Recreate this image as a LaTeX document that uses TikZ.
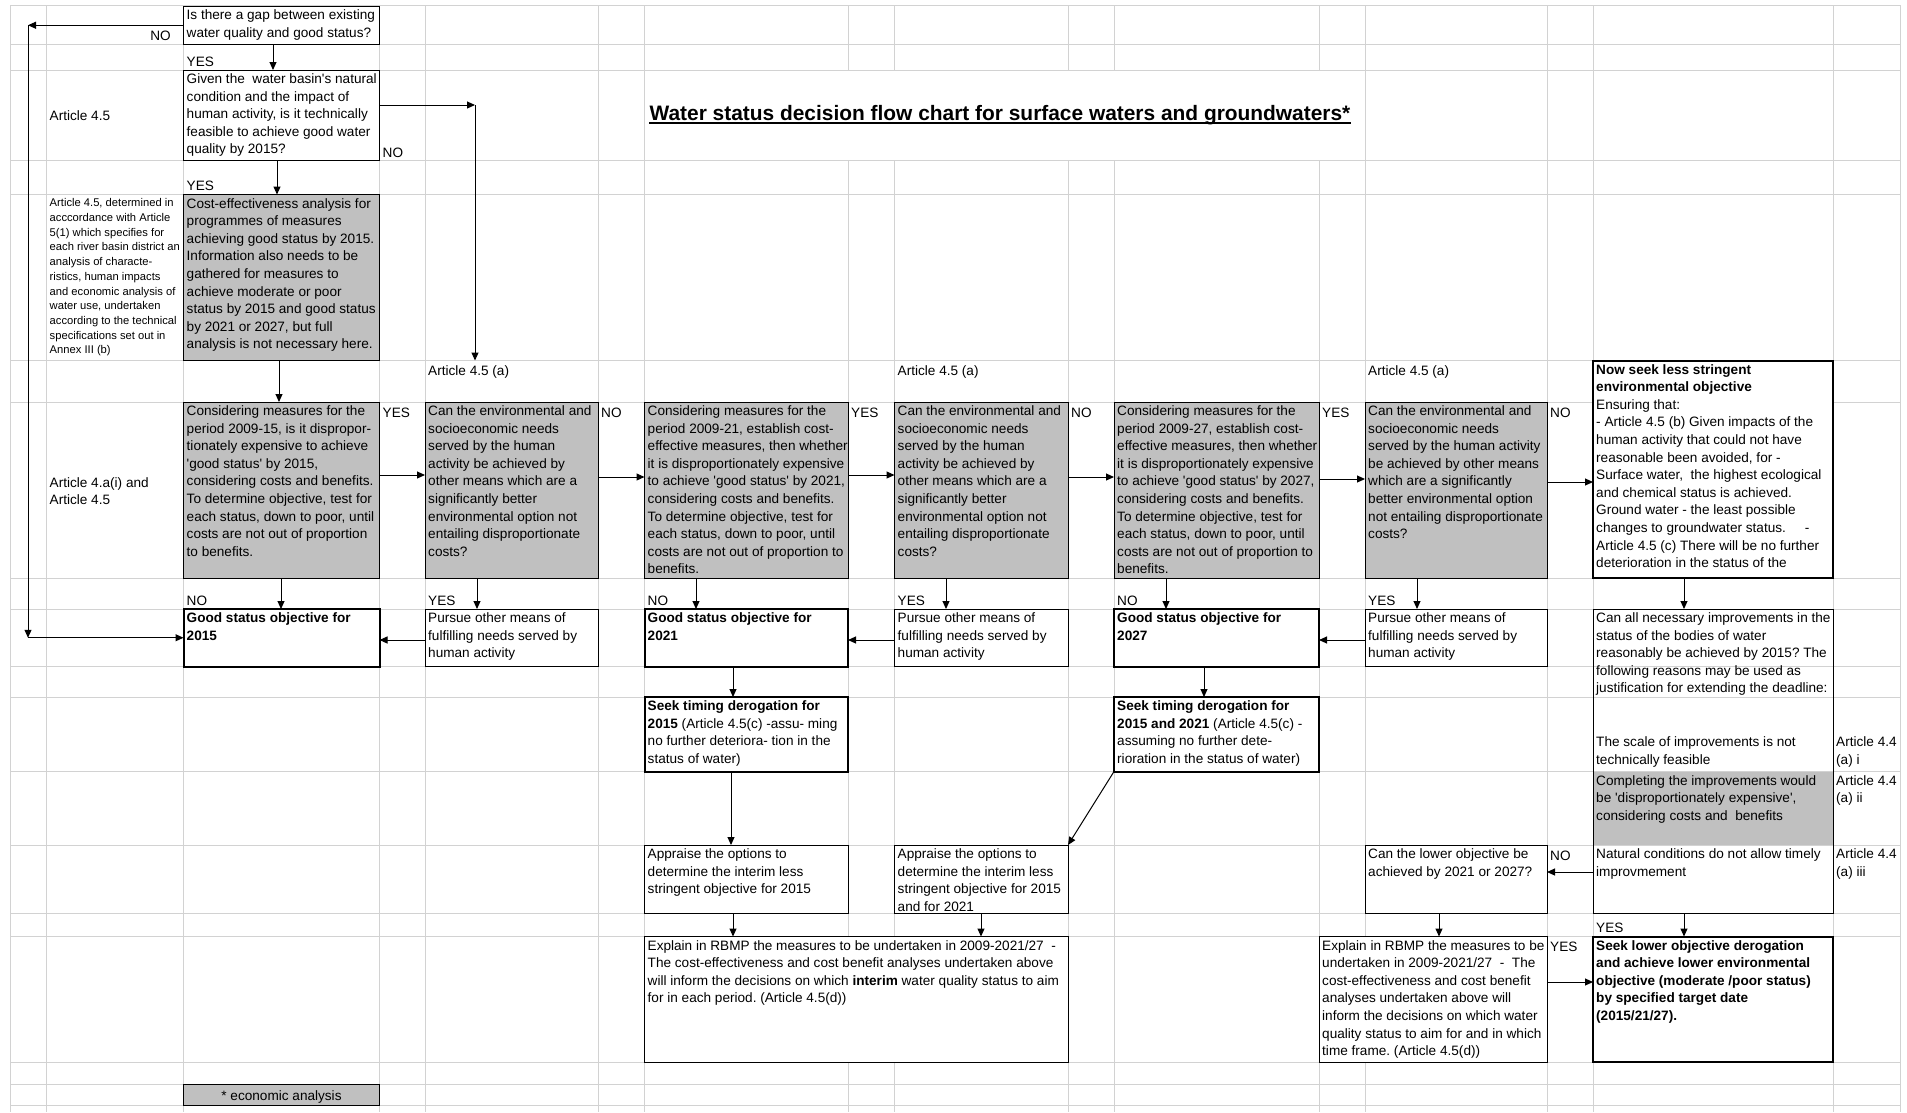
\documentclass[tikz,border=0pt]{standalone}
\usepackage{fontspec}
\setmainfont{Liberation Sans}
\usepackage{tikz}
\usetikzlibrary{arrows.meta, fit}
\frenchspacing
\definecolor{cellgray}{RGB}{192,192,192}
\definecolor{gridgray}{RGB}{210,210,210}
\newcommand{\bodyfont}{\fontsize{13.6}{17.6}\selectfont}
\newcommand{\notefont}{\fontsize{11.2}{14.7}\selectfont}
\newcommand{\titlefont}{\fontsize{20.9}{25}\selectfont\bfseries}
\newcommand{\sq}{\textquotesingle}
\tikzstyle{box} = [draw=black, line width=1pt, fill=white, inner sep=0pt, outer sep=0pt]
\tikzstyle{graybox} = [box, fill=cellgray]
\tikzstyle{boldbox} = [box, line width=2pt]
\tikzstyle{txt} = [anchor=north west, align=left, inner xsep=3pt, inner ysep=3.5pt,
 font=\bodyfont, execute at begin node=\strut]
\tikzstyle{note} = [txt, font=\notefont, inner ysep=4pt]
\tikzstyle{lbl} = [anchor=base west, inner sep=0pt, font=\bodyfont]
\tikzstyle{arrow} = [line width=1pt, -{Triangle[length=8pt, width=7pt]}]

\begin{document}
\begin{tikzpicture}[x=1pt, y=-1pt]
\useasboundingbox[fill=white] (0,0) rectangle (1907,1112);
\foreach \gx in {10,46.5,183.5,379.5,425,598,644.5,848,894.5,1068,1114,1319,1365,1547,1593,1833,1900}
 \draw[gridgray, line width=1pt] (\gx,5) -- (\gx,1112);
\foreach \gy in {5,44.5,70,160.5,194.5,360.5,402,578,609,666.5,697,771.5,845,913,936.5,1062,1084,1105.5}
 \draw[gridgray, line width=1pt] (10,\gy) -- (1900,\gy);
\fill[white] (645.5,71) rectangle (1364,159.5);
\node(title) [font=\titlefont, inner sep=0pt] at (1000,115) {Water status decision flow chart for surface waters and groundwaters*};
\draw[line width=2pt] ([yshift=-3pt]title.base west) -- ([yshift=-3pt]title.base east);

\node(gap) [box, fit={(183.5,6) (379.5,44.5)}] {};
\node(given) [box, fit={(183.5,70) (379.5,160.5)}] {};
\node(cea) [graybox, fit={(183.5,194.5) (379.5,360.5)}] {};
\node(dispro15) [graybox, fit={(183.5,402) (379.5,578)}] {};
\node(means15) [graybox, fit={(425,402) (598,578)}] {};
\node(dispro21) [graybox, fit={(644.5,402) (848,578)}] {};
\node(means21) [graybox, fit={(894.5,402) (1068,578)}] {};
\node(dispro27) [graybox, fit={(1114,402) (1319,578)}] {};
\node(means27) [graybox, fit={(1365,402) (1547,578)}] {};
\node(lessobj) [boldbox, fit={(1593,360.5) (1833,578)}] {};
\node(good15) [boldbox, fit={(183.5,609) (379.5,666.5)}] {};
\node(pursue15) [box, fit={(425,609) (598,666.5)}] {};
\node(good21) [boldbox, fit={(644.5,609) (848,666.5)}] {};
\node(pursue21) [box, fit={(894.5,609) (1068,666.5)}] {};
\node(good27) [boldbox, fit={(1114,609) (1319,666.5)}] {};
\node(pursue27) [box, fit={(1365,609) (1547,666.5)}] {};
\node(costrow) [fill=cellgray, inner sep=0pt, fit={(1593,771.5) (1833,845)}] {};
\node(reasons) [box, fill=none, fit={(1593,609) (1833,913)}] {};
\node(timing15) [boldbox, fit={(644.5,697) (848,771.5)}] {};
\node(timing21) [boldbox, fit={(1114,697) (1319,771.5)}] {};
\node(appraise15) [box, fit={(644.5,845) (848,913)}] {};
\node(appraise21) [box, fit={(894.5,845) (1068,913)}] {};
\node(lowerq) [box, fit={(1365,845) (1547,913)}] {};
\node(explaini) [box, fit={(644.5,936.5) (1068,1062)}] {};
\node(explainl) [box, fit={(1319,936.5) (1547,1062)}] {};
\node(lowerobj) [boldbox, fit={(1593,936.5) (1833,1062)}] {};
\node(econ) [graybox, fit={(183.5,1084) (379.5,1105.5)}] {};
\node(econt) [font=\bodyfont, inner sep=0pt, anchor=base] at (281.5,1100) {* economic analysis};

\node(gapt) [txt] at (183.5,6) {Is there a gap between existing\\water quality and good status?};
\node(givent) [txt] at (183.5,70) {Given the \ water basin\sq s natural\\condition and the impact of\\human activity, is it technically\\feasible to achieve good water\\quality by 2015?};
\node(ceat) [txt] at (183.5,194.5) {Cost-effectiveness analysis for\\programmes of measures\\achieving good status by 2015.\\Information also needs to be\\gathered for measures to\\achieve moderate or poor\\status by 2015 and good status\\by 2021 or 2027, but full\\analysis is not necessary here.};
\node(dispro15t) [txt] at (183.5,402) {Considering measures for the\\period 2009-15, is it dispropor-\\tionately expensive to achieve\\\sq good status\sq\ by 2015,\\considering costs and benefits.\\To determine objective, test for\\each status, down to poor, until\\costs are not out of proportion\\to benefits.};
\node(means15t) [txt] at (425,402) {Can the environmental and\\socioeconomic needs\\served by the human\\activity be achieved by\\other means which are a\\significantly better\\environmental option not\\entailing disproportionate\\costs?};
\node(dispro21t) [txt] at (644.5,402) {Considering measures for the\\period 2009-21, establish cost-\\effective measures, then whether\\it is disproportionately expensive\\to achieve \sq good status\sq\ by 2021,\\considering costs and benefits.\\To determine objective, test for\\each status, down to poor, until\\costs are not out of proportion to\\benefits.};
\node(means21t) [txt] at (894.5,402) {Can the environmental and\\socioeconomic needs\\served by the human\\activity be achieved by\\other means which are a\\significantly better\\environmental option not\\entailing disproportionate\\costs?};
\node(dispro27t) [txt] at (1114,402) {Considering measures for the\\period 2009-27, establish cost-\\effective measures, then whether\\it is disproportionately expensive\\to achieve \sq good status\sq\ by 2027,\\considering costs and benefits.\\To determine objective, test for\\each status, down to poor, until\\costs are not out of proportion to\\benefits.};
\node(means27t) [txt] at (1365,402) {Can the environmental and\\socioeconomic needs\\served by the human activity\\be achieved by other means\\which are a significantly\\better environmental option\\not entailing disproportionate\\costs?};
\node(lessobjt) [txt] at (1593,360.5) {\textbf{Now seek less stringent}\\\textbf{environmental objective}\\Ensuring that:\\- Article 4.5 (b) Given impacts of the\\human activity that could not have\\reasonable been avoided, for -\\Surface water, \ the highest ecological\\and chemical status is achieved.\\Ground water - the least possible\\changes to groundwater status. \ \ \ \ -\\Article 4.5 (c) There will be no further\\deterioration in the status of the};
\node(good15t) [txt] at (183.5,609) {\textbf{Good status objective for}\\\textbf{2015}};
\node(pursue15t) [txt] at (425,609) {Pursue other means of\\fulfilling needs served by\\human activity};
\node(good21t) [txt] at (644.5,609) {\textbf{Good status objective for}\\\textbf{2021}};
\node(pursue21t) [txt] at (894.5,609) {Pursue other means of\\fulfilling needs served by\\human activity};
\node(good27t) [txt] at (1114,609) {\textbf{Good status objective for}\\\textbf{2027}};
\node(pursue27t) [txt] at (1365,609) {Pursue other means of\\fulfilling needs served by\\human activity};
\node(reasonst) [txt] at (1593,609) {Can all necessary improvements in the\\status of the bodies of water\\reasonably be achieved by 2015? The\\following reasons may be used as\\justification for extending the deadline:};
\node(scalet) [txt] at (1593,733) {The scale of improvements is not\\technically feasible};
\node(costt) [txt] at (1593,771.5) {Completing the improvements would\\be \sq disproportionately expensive\sq ,\\considering costs and \ benefits};
\node(naturalt) [txt] at (1593,845) {Natural conditions do not allow timely\\improvmement};
\node(art44i) [txt] at (1833,733) {Article 4.4\\(a) i};
\node(art44ii) [txt] at (1833,771.5) {Article 4.4\\(a) ii};
\node(art44iii) [txt] at (1833,845) {Article 4.4\\(a) iii};
\node(timing15t) [txt] at (644.5,697) {\textbf{Seek timing derogation for}\\\textbf{2015} (Article 4.5(c) -assu- ming\\no further deteriora- tion in the\\status of water)};
\node(timing21t) [txt] at (1114,697) {\textbf{Seek timing derogation for}\\\textbf{2015 and 2021} (Article 4.5(c) -\\assuming no further dete-\\rioration in the status of water)};
\node(appraise15t) [txt] at (644.5,845) {Appraise the options to\\determine the interim less\\stringent objective for 2015};
\node(appraise21t) [txt] at (894.5,845) {Appraise the options to\\determine the interim less\\stringent objective for 2015\\and for 2021};
\node(lowerqt) [txt] at (1365,845) {Can the lower objective be\\achieved by 2021 or 2027?};
\node(explainit) [txt] at (644.5,936.5) {Explain in RBMP the measures to be undertaken in 2009-2021/27 \ -\\The cost-effectiveness and cost benefit analyses undertaken above\\will inform the decisions on which \textbf{interim} water quality status to aim\\for in each period. (Article 4.5(d))};
\node(explainlt) [txt] at (1319,936.5) {Explain in RBMP the measures to be\\undertaken in 2009-2021/27 \ - \ The\\cost-effectiveness and cost benefit\\analyses undertaken above will\\inform the decisions on which water\\quality status to aim for and in which\\time frame. (Article 4.5(d))};
\node(lowerobjt) [txt] at (1593,936.5) {\textbf{Seek lower objective derogation}\\\textbf{and achieve lower environmental}\\\textbf{objective (moderate /poor status)}\\\textbf{by specified target date}\\\textbf{(2015/21/27).}};

\node(art45) [lbl, anchor=west] at (49.5,116) {Article 4.5};
\node(art45det) [note] at (46.5,194.5) {Article 4.5, determined in\\acccordance with Article\\5(1) which specifies for\\each river basin district an\\analysis of characte-\\ristics, human impacts\\and economic analysis of\\water use, undertaken\\according to the technical\\specifications set out in\\Annex III (b)};
\node(art4a) [lbl, anchor=west, align=left] at (49.5,491) {Article 4.a(i) and\\Article 4.5};
\node(art45a1) [lbl] at (428,375) {Article 4.5 (a)};
\node(art45a2) [lbl] at (897.5,375) {Article 4.5 (a)};
\node(art45a3) [lbl] at (1368,375) {Article 4.5 (a)};
\node(nogap) [lbl, anchor=base east] at (171,40.5) {NO};
\node(yesgap) [lbl] at (186.5,66) {YES};
\node(nogiven) [lbl] at (382.5,157) {NO};
\node(yesgiven) [lbl] at (186.5,190.5) {YES};
\node(yesA) [lbl] at (382.5,417) {YES};
\node(noB) [lbl] at (601,417) {NO};
\node(yesC) [lbl] at (851,417) {YES};
\node(noD) [lbl] at (1071,417) {NO};
\node(yesE) [lbl] at (1322,417) {YES};
\node(noF) [lbl] at (1550,417) {NO};
\node(noA) [lbl] at (186.5,605) {NO};
\node(yesB) [lbl] at (428,605) {YES};
\node(noC) [lbl] at (647.5,605) {NO};
\node(yesD) [lbl] at (897.5,605) {YES};
\node(noE) [lbl] at (1117,605) {NO};
\node(yesF) [lbl] at (1368,605) {YES};
\node(nolower) [lbl] at (1550,860) {NO};
\node(yesreasons) [lbl] at (1596,932.5) {YES};
\node(yesexplain) [lbl] at (1550,951.5) {YES};

\coordinate (noturn) at (28,25.25);
\coordinate (nodown) at (28,637.75);
\coordinate (giventurn) at (475,105);
\coordinate (givendown) at (475,360.5);
\draw[arrow] (gap.west) -- (noturn);
\draw[arrow] (noturn) -- (nodown);
\draw[arrow] (nodown) -- (good15.west);
\draw[arrow] (gap.south -| 273,0) -- (given.north -| 273,0);
\draw[arrow] (given.east |- giventurn) -- (giventurn);
\draw[arrow] (giventurn) -- (givendown);
\draw[arrow] (given.south -| 277,0) -- (cea.north -| 277,0);
\draw[arrow] (cea.south -| 279,0) -- (dispro15.north -| 279,0);
\draw[arrow] (dispro15.east |- 0,475) -- (means15.west |- 0,475);
\draw[arrow] (means15.east |- 0,477) -- (dispro21.west |- 0,477);
\draw[arrow] (dispro21.east |- 0,475) -- (means21.west |- 0,475);
\draw[arrow] (means21.east |- 0,477) -- (dispro27.west |- 0,477);
\draw[arrow] (dispro27.east |- 0,479) -- (means27.west |- 0,479);
\draw[arrow] (means27.east |- 0,482) -- (lessobj.west |- 0,482);
\draw[arrow] (dispro15.south -| 281,0) -- (good15.north -| 281,0);
\draw[arrow] (means15.south -| 477,0) -- (pursue15.north -| 477,0);
\draw[arrow] (dispro21.south -| 696,0) -- (good21.north -| 696,0);
\draw[arrow] (means21.south -| 946,0) -- (pursue21.north -| 946,0);
\draw[arrow] (dispro27.south -| 1166,0) -- (good27.north -| 1166,0);
\draw[arrow] (means27.south -| 1417,0) -- (pursue27.north -| 1417,0);
\draw[arrow] (lessobj.south -| 1684,0) -- (reasons.north -| 1684,0);
\draw[arrow] (pursue15.west |- 0,640) -- (good15.east |- 0,640);
\draw[arrow] (pursue21.west |- 0,640) -- (good21.east |- 0,640);
\draw[arrow] (pursue27.west |- 0,640) -- (good27.east |- 0,640);
\draw[arrow] (good21.south -| 733,0) -- (timing15.north -| 733,0);
\draw[arrow] (good27.south -| 1204,0) -- (timing21.north -| 1204,0);
\draw[arrow] (timing15.south -| 731,0) -- (appraise15.north -| 731,0);
\draw[arrow] (timing21.south west) -- (appraise21.north east);
\draw[arrow] (appraise15.south -| 733,0) -- (explaini.north -| 733,0);
\draw[arrow] (appraise21.south -| 981,0) -- (explaini.north -| 981,0);
\draw[arrow] (reasons.west |- 0,872) -- (lowerq.east |- 0,872);
\draw[arrow] (lowerq.south -| 1439,0) -- (explainl.north -| 1439,0);
\draw[arrow] (reasons.south -| 1684,0) -- (lowerobj.north -| 1684,0);
\draw[arrow] (explainl.east |- 0,982) -- (lowerobj.west |- 0,982);
\end{tikzpicture}
\end{document}
